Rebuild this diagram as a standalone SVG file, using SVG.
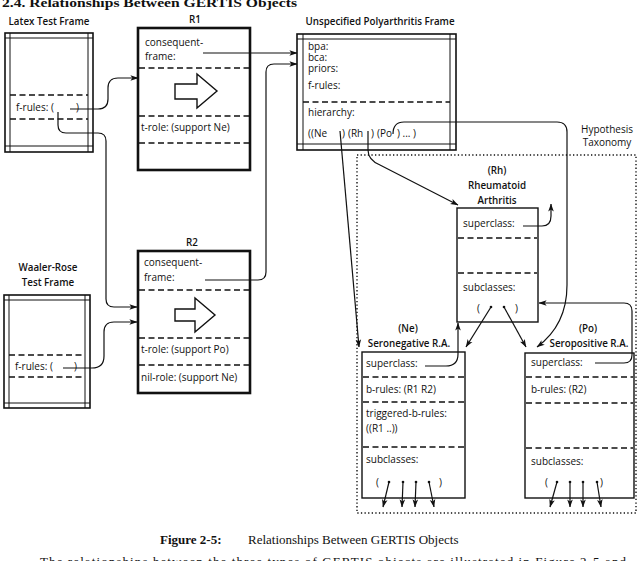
<svg xmlns="http://www.w3.org/2000/svg" width="640" height="561" viewBox="0 0 640 561">
<style>
text{font-family:"Open Sans","Liberation Sans",sans-serif;font-size:10px;fill:#111}
.lbl{font-weight:600;text-anchor:middle;font-size:9.8px}
.mid{text-anchor:middle}
.serif{font-family:"Liberation Serif","DejaVu Serif",serif;font-size:13px}
.bold{font-weight:bold}
.frame{fill:none;stroke:#111;stroke-width:1.6}
.inner{stroke:#111;stroke-width:1}
.thick{fill:none;stroke:#111;stroke-width:2.6}
.box{fill:none;stroke:#111;stroke-width:1.4}
.dash{stroke:#111;stroke-width:1.4;stroke-dasharray:6,3.5}
.con{fill:none;stroke:#111;stroke-width:1.2;marker-end:url(#ah)}
.blk{fill:#fff;stroke:#111;stroke-width:1.4;stroke-linejoin:miter}
.dot{fill:#111}
</style>
<defs>
<marker id="ah" viewBox="0 0 10 8" refX="9.5" refY="4" markerWidth="8" markerHeight="6.4" markerUnits="userSpaceOnUse" orient="auto"><path d="M0,0.5 L10,4 L0,7.5 L2.5,4 z" fill="#111"/></marker>
</defs>
<rect width="640" height="561" fill="#fff"/>

<text class="serif bold" x="2" y="7" font-size="14" textLength="295" lengthAdjust="spacingAndGlyphs">2.4. Relationships Between GERTIS Objects</text>

<g id="latex">
<text class="lbl" x="49" y="25">Latex Test Frame</text>
<rect class="frame" x="5" y="33" width="88" height="119"/>
<line class="inner" x1="10" y1="33" x2="10" y2="152"/>
<line class="inner" x1="88" y1="33" x2="88" y2="152"/>
<line class="inner" x1="5" y1="38" x2="93" y2="38"/>
<line class="inner" x1="5" y1="146" x2="93" y2="146"/>
<line class="dash" x1="10" y1="95" x2="88" y2="95"/>
<line class="dash" x1="10" y1="119" x2="88" y2="119"/>
<text x="16" y="111">f-rules: (</text>
<text x="76" y="111">)</text>
</g>

<g id="r1">
<text class="lbl" x="195" y="23">R1</text>
<rect class="thick" x="138" y="28" width="112" height="142"/>
<line class="dash" x1="139" y1="68" x2="249" y2="68"/>
<line class="dash" x1="139" y1="116" x2="249" y2="116"/>
<line class="dash" x1="139" y1="143" x2="249" y2="143"/>
<text x="145" y="46">consequent-</text>
<text x="145" y="60">frame:</text>
<polygon class="blk" points="175,84 197,84 197,74 217,91 197,108 197,99 175,99"/>
<text x="141" y="131">t-role: (support Ne)</text>
</g>

<g id="unspecified">
<text class="lbl" x="380" y="25">Unspecified Polyarthritis Frame</text>
<rect class="frame" x="297" y="34" width="159" height="116"/>
<line class="inner" x1="303" y1="34" x2="303" y2="150"/>
<line class="inner" x1="450" y1="34" x2="450" y2="150"/>
<line class="inner" x1="297" y1="39" x2="456" y2="39"/>
<line class="inner" x1="297" y1="144" x2="456" y2="144"/>
<line class="dash" x1="303" y1="102" x2="450" y2="102"/>
<text x="308" y="50">bpa:</text>
<text x="308" y="61">bca:</text>
<text x="308" y="72">priors:</text>
<text x="308" y="89">f-rules:</text>
<text x="308" y="116">hierarchy:</text>
<text x="308" y="137">((Ne</text>
<text x="342" y="137">)</text>
<text x="348" y="137">(Rh</text>
<text x="371" y="137">)</text>
<text x="377" y="137">(Po</text>
<text x="397" y="137">) ... )</text>
</g>

<g id="r2">
<text class="lbl" x="192" y="246">R2</text>
<rect class="thick" x="138" y="251" width="112" height="142"/>
<line class="dash" x1="139" y1="290" x2="249" y2="290"/>
<line class="dash" x1="139" y1="338" x2="249" y2="338"/>
<line class="dash" x1="139" y1="365" x2="249" y2="365"/>
<text x="144" y="266">consequent-</text>
<text x="144" y="281">frame:</text>
<polygon class="blk" points="175,309 195,309 195,298 215,315 195,332 195,321 175,321"/>
<text x="141" y="353">t-role: (support Po)</text>
<text x="141" y="381">nil-role: (support Ne)</text>
</g>

<g id="waaler">
<text class="lbl" x="48" y="271">Waaler-Rose</text>
<text class="lbl" x="48" y="286">Test Frame</text>
<rect class="frame" x="4" y="295" width="86" height="113"/>
<line class="inner" x1="9" y1="295" x2="9" y2="408"/>
<line class="inner" x1="85" y1="295" x2="85" y2="408"/>
<line class="inner" x1="4" y1="300" x2="90" y2="300"/>
<line class="inner" x1="4" y1="403" x2="90" y2="403"/>
<line class="dash" x1="9" y1="355" x2="85" y2="355"/>
<line class="dash" x1="9" y1="377" x2="85" y2="377"/>
<text x="15" y="370">f-rules: (</text>
<text x="74" y="370">)</text>
</g>

<g id="taxonomy">
<rect x="357" y="155" width="279" height="358" fill="none" stroke="#111" stroke-width="1.4" stroke-dasharray="1.3,2.3"/>
<text class="mid" x="607" y="133">Hypothesis</text>
<text class="mid" x="607" y="146">Taxonomy</text>
</g>

<g id="rh">
<text class="lbl" x="497" y="174">(Rh)</text>
<text class="lbl" x="497" y="189">Rheumatoid</text>
<text class="lbl" x="497" y="204">Arthritis</text>
<rect class="box" x="457" y="208" width="81" height="114"/>
<line class="dash" x1="458" y1="238" x2="537" y2="238"/>
<line class="dash" x1="458" y1="273" x2="537" y2="273"/>
<text x="463" y="227">superclass:</text>
<text x="463" y="291">subclasses:</text>
<text x="477" y="312">(</text>
<text x="515" y="312">)</text>
<circle class="dot" cx="491" cy="307" r="1.3"/>
<circle class="dot" cx="504" cy="307" r="1.3"/>
</g>

<g id="ne">
<text class="lbl" x="408" y="332">(Ne)</text>
<text class="lbl" x="409" y="347">Seronegative R.A.</text>
<rect class="box" x="362" y="352" width="103" height="146"/>
<line class="dash" x1="363" y1="377" x2="464" y2="377"/>
<line class="dash" x1="363" y1="402" x2="464" y2="402"/>
<line class="dash" x1="363" y1="447" x2="464" y2="447"/>
<text x="366" y="367">superclass:</text>
<text x="366" y="393">b-rules: (R1 R2)</text>
<text x="366" y="417">triggered-b-rules:</text>
<text x="366" y="432">((R1 ..))</text>
<text x="366" y="463">subclasses:</text>
<text x="376" y="486">(</text>
<text x="439" y="486">)</text>
<circle class="dot" cx="389" cy="482" r="1.3"/>
<circle class="dot" cx="403" cy="482" r="1.3"/>
<circle class="dot" cx="416" cy="482" r="1.3"/>
<circle class="dot" cx="429" cy="482" r="1.3"/>
</g>

<g id="po">
<text class="lbl" x="588" y="332">(Po)</text>
<text class="lbl" x="589" y="347">Seropositive R.A.</text>
<rect class="box" x="525" y="353" width="109" height="145"/>
<line class="dash" x1="526" y1="377" x2="633" y2="377"/>
<line class="dash" x1="526" y1="403" x2="633" y2="403"/>
<line class="dash" x1="526" y1="448" x2="633" y2="448"/>
<text x="531" y="366">superclass:</text>
<text x="531" y="393">b-rules: (R2)</text>
<text x="531" y="465">subclasses:</text>
<text x="545" y="486">(</text>
<text x="600" y="486">)</text>
<circle class="dot" cx="557" cy="482" r="1.3"/>
<circle class="dot" cx="570" cy="482" r="1.3"/>
<circle class="dot" cx="583" cy="482" r="1.3"/>
<circle class="dot" cx="597" cy="482" r="1.3"/>
</g>

<g id="connectors">
<path class="con" d="M70,109 H98 Q108,109 108,99 V88 Q108,78 118,78 H138"/>
<path class="con" d="M58,112 V125 Q58,133 66,133 H98 Q106,133 106,141 V299 Q106,307 114,307 H137"/>
<path class="con" d="M63,368 H92 Q104,368 104,356 V332 Q104,322 114,322 H137"/>
<path class="con" d="M203,53 H297"/>
<path class="con" d="M205,280 H258 Q266,280 266,272 V72 Q266,64 274,64 H297"/>
<path class="con" d="M340,131 L359,347"/>
<path class="con" d="M368,131 V150 Q368,160 380,165 L458,205"/>
<path class="con" d="M393,134 Q393,122 404,122 H557 Q567,122 567,132 V285 Q567,325 537,347"/>
<path class="con" d="M523,226 H542 Q551,226 551,216 V204"/>
<path class="con" d="M491,307 L466,347"/>
<path class="con" d="M504,307 L526,347"/>
<path class="con" d="M425,366 H446 Q458,366 458,354 V323"/>
<path class="con" d="M595,363 H624 Q632,363 632,355 V311 Q632,303 624,303 H539"/>
<path class="con" d="M389,482 L383,507"/>
<path class="con" d="M403,482 L402,507"/>
<path class="con" d="M416,482 L415,507"/>
<path class="con" d="M429,482 L434,507"/>
<path class="con" d="M557,482 L550,507"/>
<path class="con" d="M570,482 L570,507"/>
<path class="con" d="M583,482 L583,507"/>
<path class="con" d="M597,482 L601,507"/>
</g>

<text class="serif" x="160" y="544"><tspan class="bold">Figure 2-5:</tspan><tspan x="248">Relationships Between GERTIS Objects</tspan></text>
<text class="serif" x="40" y="566" textLength="586" lengthAdjust="spacing">The relationships between the three types of GERTIS objects are illustrated in Figure 2-5 and</text>
</svg>
